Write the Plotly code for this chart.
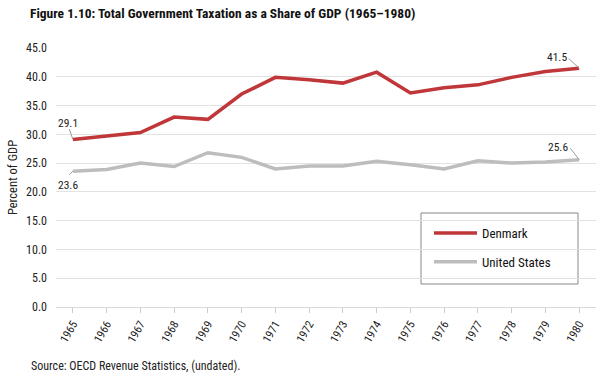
import plotly.graph_objects as go

years = [str(y) for y in range(1965, 1981)]
denmark = [29.1, 29.7, 30.3, 33.0, 32.6, 37.0, 39.9, 39.5, 38.9, 40.8, 37.2, 38.1, 38.6, 39.9, 40.9, 41.5]
united_states = [23.6, 23.9, 25.0, 24.4, 26.8, 26.0, 24.0, 24.5, 24.5, 25.3, 24.7, 24.0, 25.4, 25.0, 25.2, 25.6]
y_ticks = [0, 5, 10, 15, 20, 25, 30, 35, 40, 45]

RC = "Roboto Condensed, Roboto, sans-serif"
RED = "#C0373A"
GRAY = "#BDBDBD"

W, H = 602, 380
L, R, T, B = 56, 6, 48, 73
PW, PH = W - L - R, H - T - B


def px(xp):
    return (xp - L) / PW


def py(yp):
    return (H - B - yp) / PH


fig = go.Figure()
fig.add_trace(go.Scatter(x=years, y=denmark, name="Denmark", mode="lines", legendgroup="dk",
                         line=dict(color=RED, width=3.5)))
fig.add_trace(go.Scatter(x=years, y=united_states, name="United States", mode="lines", legendgroup="us",
                         line=dict(color=GRAY, width=3.5)))

# (index, value, label x/y shift, leader tail offset)
labels = [
    (0, denmark[0], -5, 17, -4, -12),
    (0, united_states[0], -4.5, -13.5, -5, 5),
    (15, denmark[-1], -22, 11, -12, -11),
    (15, united_states[-1], -21, 13, -10, -13),
]
for x, y, xs, ys, ax, ay in labels:
    fig.add_annotation(x=x, y=y, text=f"{y:.1f}", showarrow=False,
                       xshift=xs, yshift=ys, xanchor="center", yanchor="middle",
                       font=dict(family=RC, size=11.5, color="#222"))
    fig.add_annotation(x=x, y=y, text="", showarrow=True, arrowhead=0, standoff=0,
                       arrowwidth=1, arrowcolor="#9a9a9a", ax=ax, ay=ay,
                       axref="pixel", ayref="pixel")

fig.add_annotation(text="Source: OECD Revenue Statistics, (undated).", xref="paper", yref="paper",
                   x=px(29), y=py(366), xanchor="left", yanchor="middle", showarrow=False,
                   font=dict(family=RC, size=12, color="#222"))

# legend frame
fig.add_shape(type="rect", xref="paper", yref="paper",
              x0=px(421), x1=px(578), y0=py(284), y1=py(213),
              line=dict(color="#888", width=1), fillcolor="white", layer="below")

fig.update_layout(
    width=W, height=H,
    margin=dict(l=L, r=R, t=T, b=B),
    paper_bgcolor="white", plot_bgcolor="white",
    title=dict(text="<b>Figure 1.10: Total Government Taxation as a Share of GDP (1965–1980)</b>",
               x=30 / W, xanchor="left", xref="container",
               y=1 - 13 / H, yanchor="middle", yref="container",
               font=dict(family=RC, size=13.5, color="#111")),
    font=dict(family=RC, size=12, color="#222"),
    legend=dict(x=px(429), y=py(218), xanchor="left", yanchor="top",
                bgcolor="rgba(0,0,0,0)", borderwidth=0,
                font=dict(family=RC, size=13, color="#111"),
                itemwidth=43, tracegroupgap=9),
    showlegend=True,
)
fig.update_xaxes(type="category", range=[-0.5, 15.5], tickangle=-60,
                 ticks="outside", ticklen=5, tickcolor="#ccc",
                 showline=True, linecolor="#d8d8d8", linewidth=1,
                 showgrid=False, tickfont=dict(family=RC, size=11.5, color="#222"))
fig.update_yaxes(range=[0, 45], tickvals=y_ticks, tickformat=".1f",
                 showgrid=True, gridcolor="#e2e2e2", gridwidth=1,
                 zeroline=False, showline=False, ticks="", ticklabelstandoff=8,
                 title=dict(text="Percent of GDP", standoff=5,
                            font=dict(family=RC, size=12.5, color="#222")),
                 tickfont=dict(family=RC, size=12, color="#222"))

fig.write_html("out.html", config={"displayModeBar": False},
               post_script="document.body.style.margin='0';")
